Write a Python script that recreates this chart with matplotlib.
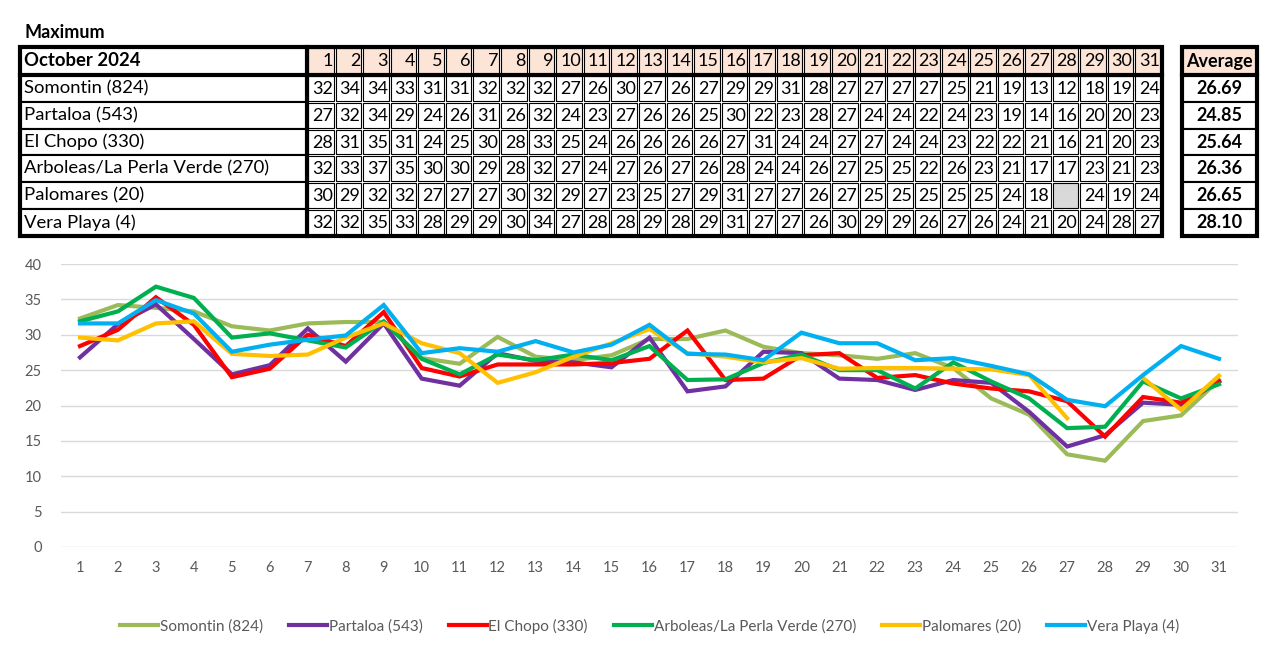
import matplotlib
matplotlib.use('Agg')
import matplotlib.pyplot as plt
from matplotlib.patches import Rectangle

plt.rcParams['font.family'] = ['Lato', 'DejaVu Sans']

# Datos
dias = list(range(1, 32))
estaciones = ['Somontin (824)', 'Partaloa (543)', 'El Chopo (330)',
              'Arboleas/La Perla Verde (270)', 'Palomares (20)', 'Vera Playa (4)']
colores = ['#9BBB59', '#7030A0', '#FF0000', '#00B050', '#FFC000', '#00B0F0']

# Valores de la tabla (enteros)
tabla_somontin = [32, 34, 34, 33, 31, 31, 32, 32, 32, 27, 26, 30, 27, 26, 27, 29, 29, 31, 28, 27, 27, 27, 27, 25, 21, 19, 13, 12, 18, 19, 24]
tabla_partaloa = [27, 32, 34, 29, 24, 26, 31, 26, 32, 24, 23, 27, 26, 26, 25, 30, 22, 23, 28, 27, 24, 24, 22, 24, 23, 19, 14, 16, 20, 20, 23]
tabla_chopo = [28, 31, 35, 31, 24, 25, 30, 28, 33, 25, 24, 26, 26, 26, 26, 27, 31, 24, 24, 27, 27, 24, 24, 23, 22, 22, 21, 16, 21, 20, 23]
tabla_arboleas = [32, 33, 37, 35, 30, 30, 29, 28, 32, 27, 24, 27, 26, 27, 26, 28, 24, 24, 26, 27, 25, 25, 22, 26, 23, 21, 17, 17, 23, 21, 23]
tabla_palomares = [30, 29, 32, 32, 27, 27, 27, 30, 32, 29, 27, 23, 25, 27, 29, 31, 27, 27, 26, 27, 25, 25, 25, 25, 25, 24, 18, None, 24, 19, 24]
tabla_vera = [32, 32, 35, 33, 28, 29, 29, 30, 34, 27, 28, 28, 29, 28, 29, 31, 27, 27, 26, 30, 29, 29, 26, 27, 26, 24, 21, 20, 24, 28, 27]
promedios = ['26.69', '24.85', '25.64', '26.36', '26.65', '28.10']

# Valores del grafico (decimales)
somontin = [32.3, 34.2, 33.8, 33.3, 31.2, 30.6, 31.6, 31.8, 31.8, 26.7, 25.9, 29.7, 26.9, 26.4, 27.1, 29.4, 29.4, 30.6, 28.3, 27.4, 27.1, 26.6, 27.4, 25.3, 21.0, 18.7, 13.1, 12.2, 17.8, 18.6, 23.6]
partaloa = [26.8, 31.5, 34.3, 29.4, 24.4, 25.7, 30.9, 26.2, 31.6, 23.8, 22.8, 27.4, 26.3, 26.1, 25.4, 29.6, 22.0, 22.7, 27.6, 27.4, 23.8, 23.6, 22.2, 23.6, 23.2, 19.1, 14.2, 15.8, 20.4, 20.1, 23.4]
chopo = [28.4, 30.7, 35.3, 31.4, 24.0, 25.2, 30.0, 28.4, 33.2, 25.3, 24.1, 25.8, 25.8, 25.8, 26.0, 26.6, 30.6, 23.6, 23.8, 27.1, 27.4, 23.9, 24.3, 23.1, 22.4, 22.0, 20.6, 15.6, 21.2, 20.4, 23.4]
arboleas = [31.9, 33.3, 36.8, 35.2, 29.6, 30.2, 29.2, 28.2, 31.9, 26.6, 24.4, 27.2, 26.4, 27.2, 26.4, 28.4, 23.6, 23.7, 26.0, 27.2, 25.0, 25.0, 22.4, 26.1, 23.4, 21.0, 16.8, 17.0, 23.4, 21.0, 23.0]
palomares = [29.6, 29.2, 31.6, 31.9, 27.3, 27.0, 27.2, 29.6, 31.6, 28.8, 27.4, 23.2, 24.7, 26.9, 28.8, 30.8, 27.4, 26.9, 26.1, 26.7, 25.2, 25.3, 25.3, 25.2, 25.1, 24.3, 18.2, None, 23.9, 19.4, 24.2]
vera = [31.6, 31.6, 34.9, 33.0, 27.6, 28.6, 29.3, 29.9, 34.2, 27.4, 28.1, 27.6, 29.1, 27.5, 28.6, 31.4, 27.3, 27.2, 26.4, 30.3, 28.8, 28.8, 26.4, 26.7, 25.6, 24.4, 20.8, 19.9, 24.3, 28.4, 26.6]

tabla = [tabla_somontin, tabla_partaloa, tabla_chopo, tabla_arboleas, tabla_palomares, tabla_vera]
series = [somontin, partaloa, chopo, arboleas, palomares, vera]

W, H = 1280, 652
fig = plt.figure(figsize=(W / 100, H / 100), dpi=100)

# ---- Tabla (en coordenadas de pixel) ----
axt = fig.add_axes([0, 0, 1, 1])
axt.set_xlim(0, W)
axt.set_ylim(H, 0)
axt.axis('off')

melocoton = '#FCE4D6'
x0, x_nombre, x_fin = 20, 307, 1162
ancho = (x_fin - x_nombre) / 31
filas_y = [47, 75, 102, 129, 155, 182, 209, 236]
xa0, xa1 = 1182, 1257

axt.text(25, 32, 'Maximum', fontsize=13, fontweight='bold', va='center', ha='left')

for r in range(7):
    ya, yb = filas_y[r], filas_y[r + 1]
    yc = (ya + yb) / 2
    # columna de nombres
    axt.add_patch(Rectangle((x0, ya), x_nombre - x0, yb - ya, fc='white', ec='black', lw=1.5))
    if r == 0:
        axt.text(x0 + 4, yc, 'October 2024', fontsize=13.3, fontweight='bold', va='center')
    else:
        axt.text(x0 + 4, yc, estaciones[r - 1], fontsize=13.3, va='center')
    for c in range(31):
        xa = x_nombre + c * ancho
        if r == 0:
            fc = melocoton
            txt = str(dias[c])
        else:
            v = tabla[r - 1][c]
            fc = '#D9D9D9' if v is None else 'white'
            txt = '' if v is None else str(v)
        axt.add_patch(Rectangle((xa + 1, ya + 1), ancho - 2, yb - ya - 2, fc=fc, ec='black', lw=0.8))
        axt.text(xa + ancho - 2, yc + 0.5, txt, fontsize=13, va='center', ha='right')
    # promedio
    axt.add_patch(Rectangle((xa0, ya), xa1 - xa0, yb - ya,
                            fc=melocoton if r == 0 else 'white', ec='black', lw=1.5))
    axt.text((xa0 + xa1) / 2, yc, 'Average' if r == 0 else promedios[r - 1],
             fontsize=13, fontweight='bold', va='center', ha='center')

# bordes gruesos
axt.add_patch(Rectangle((x0, filas_y[0]), x_fin - x0, filas_y[-1] - filas_y[0], fill=False, ec='black', lw=3))
axt.plot([x0, x_fin], [filas_y[1], filas_y[1]], color='black', lw=3)
axt.plot([x_nombre, x_nombre], [filas_y[0], filas_y[-1]], color='black', lw=3)
axt.add_patch(Rectangle((xa0, filas_y[0]), xa1 - xa0, filas_y[-1] - filas_y[0], fill=False, ec='black', lw=3))
axt.plot([xa0, xa1], [filas_y[1], filas_y[1]], color='black', lw=3)

# ---- Grafico de lineas ----
ax = fig.add_axes([61 / W, 1 - 547 / H, (1238 - 61) / W, (547 - 264) / H])
for nombre, datos, col in zip(estaciones, series, colores):
    y = [float('nan') if v is None else v for v in datos]
    ax.plot(dias, y, color=col, lw=3, label=nombre, solid_joinstyle='miter')

ax.set_xlim(0.5, 31.5)
ax.set_ylim(0, 40)
ax.set_yticks(range(0, 41, 5))
ax.set_xticks(dias)
ax.grid(axis='y', color='#D9D9D9', lw=1)
ax.set_axisbelow(True)
for s in ax.spines.values():
    s.set_visible(False)
ax.tick_params(length=0, colors='#595959', labelsize=10.5)
ax.tick_params(axis='y', pad=14)
ax.tick_params(axis='x', pad=10)

leg = ax.legend(loc='center', bbox_to_anchor=(0.5, -(626 - 547) / (547 - 264)),
                ncol=6, frameon=False, fontsize=11, handlelength=2.5,
                columnspacing=1.7, handletextpad=0.1)
for t in leg.get_texts():
    t.set_color('#595959')

fig.savefig('out.png', dpi=100)
